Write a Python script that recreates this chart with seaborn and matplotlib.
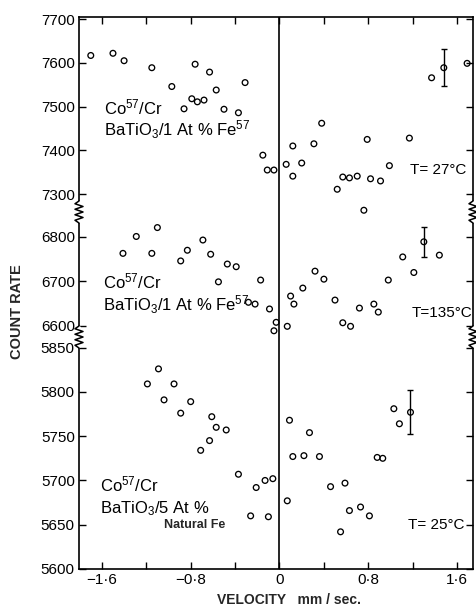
import numpy as np
import matplotlib
matplotlib.use("Agg")
import matplotlib.pyplot as plt
from matplotlib.lines import Line2D
import seaborn as sns

# Velocity (mm/sec) and count rate
top_vel = [-1.70, -1.50, -1.40, -1.15, -0.97, -0.86, -0.79, -0.76, -0.74, -0.68,
           -0.63, -0.57, -0.50, -0.37, -0.31, -0.15, -0.11, -0.05, 0.06, 0.12,
           0.12, 0.20, 0.31, 0.38, 0.52, 0.57, 0.63, 0.70, 0.76, 0.79,
           0.82, 0.91, 0.99, 1.17, 1.37, 1.48, 1.69]
top_counts = [7617, 7622, 7605, 7589, 7546, 7495, 7518, 7597, 7511, 7515,
              7579, 7538, 7494, 7486, 7555, 7389, 7355, 7355, 7368, 7410,
              7341, 7371, 7415, 7462, 7311, 7339, 7337, 7341, 7263, 7425,
              7335, 7330, 7365, 7428, 7566, 7589, 7599]

mid_vel = [-1.41, -1.29, -1.15, -1.10, -0.89, -0.83, -0.69, -0.62, -0.55, -0.47,
           -0.39, -0.28, -0.22, -0.17, -0.09, -0.03, -0.05, 0.07, 0.10, 0.13,
           0.21, 0.32, 0.40, 0.50, 0.57, 0.64, 0.72, 0.85, 0.89, 0.98,
           1.11, 1.21, 1.30, 1.44]
mid_counts = [6763, 6801, 6763, 6821, 6746, 6770, 6793, 6761, 6699, 6739,
              6733, 6653, 6649, 6703, 6638, 6608, 6589, 6599, 6667, 6649,
              6685, 6723, 6705, 6658, 6607, 6599, 6640, 6649, 6631, 6703,
              6755, 6720, 6789, 6759]

bot_vel = [-1.19, -1.09, -1.04, -0.95, -0.89, -0.80, -0.71, -0.63, -0.61, -0.57,
           -0.48, -0.37, -0.26, -0.21, -0.13, -0.10, -0.06, 0.07, 0.09, 0.12,
           0.22, 0.27, 0.36, 0.46, 0.55, 0.59, 0.63, 0.73, 0.81, 0.88,
           0.93, 1.03, 1.08, 1.18]
bot_counts = [5809, 5826, 5791, 5809, 5776, 5789, 5734, 5745, 5772, 5760,
              5757, 5707, 5660, 5692, 5700, 5659, 5702, 5677, 5768, 5727,
              5728, 5754, 5727, 5693, 5642, 5697, 5666, 5670, 5660, 5726,
              5725, 5781, 5764, 5777]

# one typical error bar per spectrum
err_vel = [1.48, 1.30, 1.18]
err_counts = [7589, 6789, 5777]
err_size = [42, 34, 25]

top_ticks = [7300, 7400, 7500, 7600, 7700]
mid_ticks = [6600, 6700, 6800]
bot_ticks = [5600, 5650, 5700, 5750, 5800, 5850]
vel_ticks = [-1.6, -1.2, -0.8, -0.4, 0, 0.4, 0.8, 1.2, 1.6]
vel_labels = ['\u22121\u00b76', '', '\u22120\u00b78', '', '0', '', '0\u00b78', '', '1\u00b76']

sns.set_theme(style="ticks")
plt.rcParams['font.family'] = ['Liberation Sans', 'DejaVu Sans']
plt.rcParams['mathtext.fontset'] = 'custom'
plt.rcParams['mathtext.rm'] = 'Liberation Sans'
plt.rcParams['mathtext.it'] = 'Liberation Sans:italic'
plt.rcParams['mathtext.bf'] = 'Liberation Sans:bold'

W, H = 477, 609
fig = plt.figure(figsize=(W / 100, H / 100), dpi=100)
gs = fig.add_gridspec(3, 1, left=79 / W, right=473 / W, top=1 - 17 / H, bottom=1 - 569 / H,
                      hspace=0, height_ratios=[195, 125, 232])
ax_top = fig.add_subplot(gs[0])
ax_mid = fig.add_subplot(gs[1], sharex=ax_top)
ax_bot = fig.add_subplot(gs[2], sharex=ax_top)

panels = [
    (ax_top, top_vel, top_counts, (7259, 7705), top_ticks),
    (ax_mid, mid_vel, mid_counts, (6575, 6856), mid_ticks),
    (ax_bot, bot_vel, bot_counts, (5600, 5862), bot_ticks),
]

for i, (ax, vel, counts, ylim, yt) in enumerate(panels):
    ax.patch.set_visible(False)
    sns.scatterplot(x=vel, y=counts, ax=ax, marker='o', s=17, facecolor='none',
                    edgecolor='black', linewidth=0.95, clip_on=False, zorder=3)
    ax.errorbar([err_vel[i]], [err_counts[i]], yerr=[err_size[i]], fmt='none',
                ecolor='black', elinewidth=1.0, capsize=2.5, capthick=1.0, zorder=3)
    ax.axvline(0, color='black', lw=1.2, zorder=2)
    ax.set_ylim(*ylim)
    ax.set_yticks(yt)
    ax.set_xlim(-1.806, 1.743)
    for s in ax.spines.values():
        s.set_linewidth(1.2)
        s.set_color('black')
    ax.tick_params(axis='both', direction='in', length=5, width=1.0, colors='black',
                   labelsize=11, right=True, top=(i == 0), bottom=(i == 2),
                   labelbottom=(i == 2), pad=3)
    ax.set_xlabel('')
    ax.set_ylabel('')

ax_top.spines['bottom'].set_visible(False)
ax_mid.spines['top'].set_visible(False)
ax_mid.spines['bottom'].set_visible(False)
ax_bot.spines['top'].set_visible(False)

ax_bot.set_xticks(vel_ticks)
ax_bot.set_xticklabels(vel_labels)

# sample labels
txt = dict(fontsize=12, color='black', va='baseline', ha='left')
tlab = dict(fontsize=11, color='black', va='baseline', ha='left')
ax_top.text(-1.58, 7482, 'Co$^{57}$/Cr', **txt)
ax_top.text(-1.58, 7433, 'BaTiO$_3$/1 At % Fe$^{57}$', **txt)
ax_top.text(1.18, 7346, 'T= 27°C', **tlab)

ax_mid.text(-1.59, 6684, 'Co$^{57}$/Cr', **txt)
ax_mid.text(-1.59, 6634, 'BaTiO$_3$/1 At % Fe$^{57}$', **txt)
ax_mid.text(1.19, 6619, 'T=135°C', **tlab)

ax_bot.text(-1.62, 5688, 'Co$^{57}$/Cr', **txt)
ax_bot.text(-1.62, 5663, 'BaTiO$_3$/5 At %', **txt)
ax_bot.text(-1.04, 5646, 'Natural Fe', fontsize=9, fontweight='bold', va='baseline', ha='left')
ax_bot.text(1.16, 5645, 'T= 25°C', **tlab)

fig.text(17 / W, 1 - 312 / H, 'COUNT RATE', rotation=90, fontsize=10.5, fontweight='bold',
         ha='center', va='center')
fig.text(289 / W, 1 - 600 / H, 'VELOCITY   mm / sec.', fontsize=10, fontweight='bold',
         ha='center', va='center')

# zigzag break marks on both vertical axes
def zigzag(xc, yc):
    ys = np.linspace(yc - 11, yc + 11, 9)
    xs = xc + np.array([0, -4, 4, -4, 4, -4, 4, -4, 0])
    fig.add_artist(Line2D([xc / W, xc / W], [1 - (yc - 9) / H, 1 - (yc + 9) / H],
                          color='white', lw=3, transform=fig.transFigure, zorder=5))
    fig.add_artist(Line2D(xs / W, 1 - ys / H, color='black', lw=1.1,
                          transform=fig.transFigure, zorder=6))

for yb in [212, 337]:
    zigzag(79, yb)
    zigzag(473, yb)

fig.savefig('out.png', dpi=100, facecolor='white')
